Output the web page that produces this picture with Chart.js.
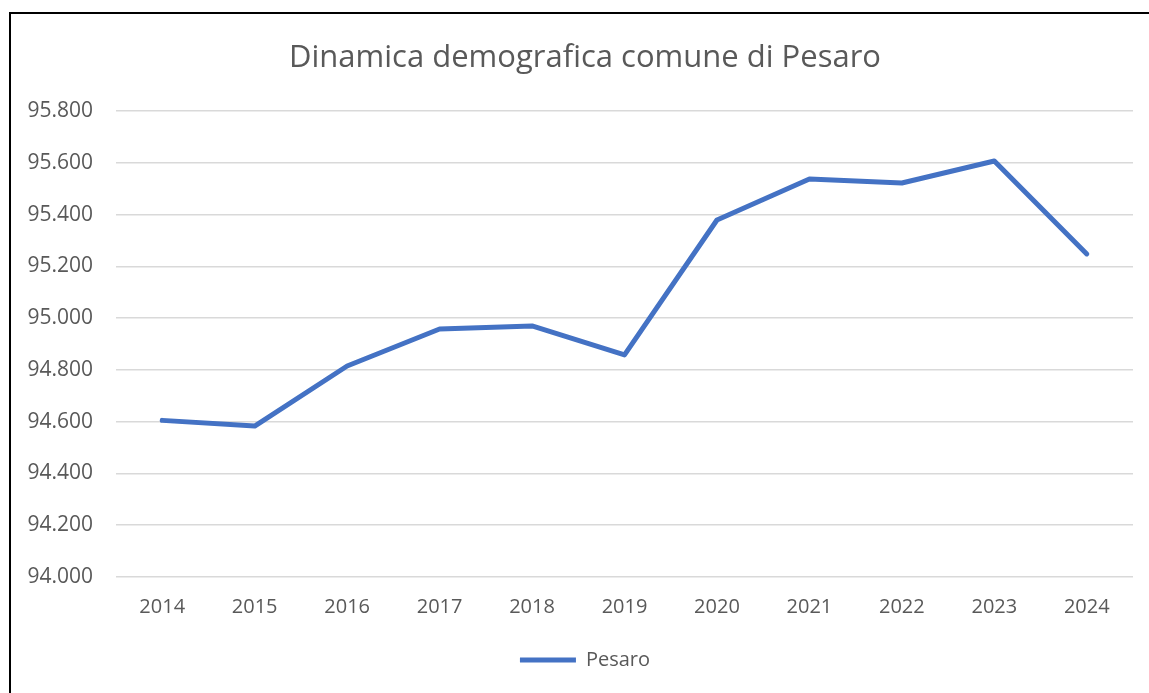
<!DOCTYPE html>
<html>
<head>
<meta charset="utf-8">
<script src="https://cdn.jsdelivr.net/npm/chart.js@4"></script>
<style>
  html, body { margin: 0; padding: 0; width: 1149px; height: 693px; overflow: hidden; background: #fff; }
  #wrap { position: absolute; left: 0; top: 0; width: 1170px; height: 693px; }
  #frame { position: absolute; left: 9px; top: 12px; width: 1200px; height: 800px; border-left: 2px solid #000; border-top: 2px solid #000; pointer-events: none; }
</style>
</head>
<body>
<div id="wrap"><canvas id="c" width="1170" height="693" style="width:1170px;height:693px"></canvas></div>
<div id="frame"></div>
<script>
const chartTitle = 'Dinamica demografica comune di Pesaro';
const seriesName = 'Pesaro';
const years = ['2014','2015','2016','2017','2018','2019','2020','2021','2022','2023','2024'];
const population = [94605, 94583, 94815, 94958, 94970, 94858, 95379, 95537, 95522, 95607, 95248];
const yMin = 94000;
const yMax = 95800;
const yStep = 200;

function fmt(v) {
  return String(Math.round(v)).replace(/\B(?=(\d{3})+(?!\d))/g, '.');
}

const FONT = "'Open Sans', sans-serif";
const TXT = '#595959';

new Chart(document.getElementById('c'), {
  type: 'line',
  data: {
    labels: years,
    datasets: [{
      label: seriesName,
      data: population,
      borderColor: '#4472C4',
      backgroundColor: '#4472C4',
      borderWidth: 5,
      borderCapStyle: 'round',
      borderJoinStyle: 'round',
      pointRadius: 0,
      tension: 0
    }]
  },
  options: {
    responsive: false,
    animation: false,
    layout: { padding: { top: 0, left: 0, right: 0, bottom: 13 } },
    plugins: {
      title: {
        display: true,
        text: chartTitle,
        color: TXT,
        font: { family: FONT, size: 31, weight: 'normal' },
        padding: { top: 39.5, bottom: 34.3 }
      },
      legend: {
        display: true,
        position: 'bottom',
        labels: {
          color: TXT,
          font: { family: FONT, size: 20 },
          usePointStyle: true,
          pointStyle: 'line',
          pointStyleWidth: 56,
          padding: 10
        }
      },
      tooltip: { enabled: false }
    },
    scales: {
      x: {
        offset: true,
        grid: { display: false, drawTicks: false },
        border: { display: false },
        ticks: { color: TXT, font: { family: FONT, size: 20 }, padding: 18, maxRotation: 0 },
        afterFit: (s) => { s.height = 63; }
      },
      y: {
        min: yMin,
        max: yMax,
        grid: { color: '#d9d9d9', lineWidth: 1.5, drawTicks: false },
        border: { display: false },
        ticks: { stepSize: yStep, color: TXT, font: { family: FONT, size: 21 }, padding: 23, callback: (v) => fmt(v) },
        afterFit: (s) => { s.width = 116; }
      },
      y2: {
        position: 'right',
        display: true,
        grid: { display: false, drawTicks: false },
        border: { display: false },
        ticks: { display: false },
        afterFit: (s) => { s.width = 37; }
      }
    }
  }
});
</script>
</body>
</html>
